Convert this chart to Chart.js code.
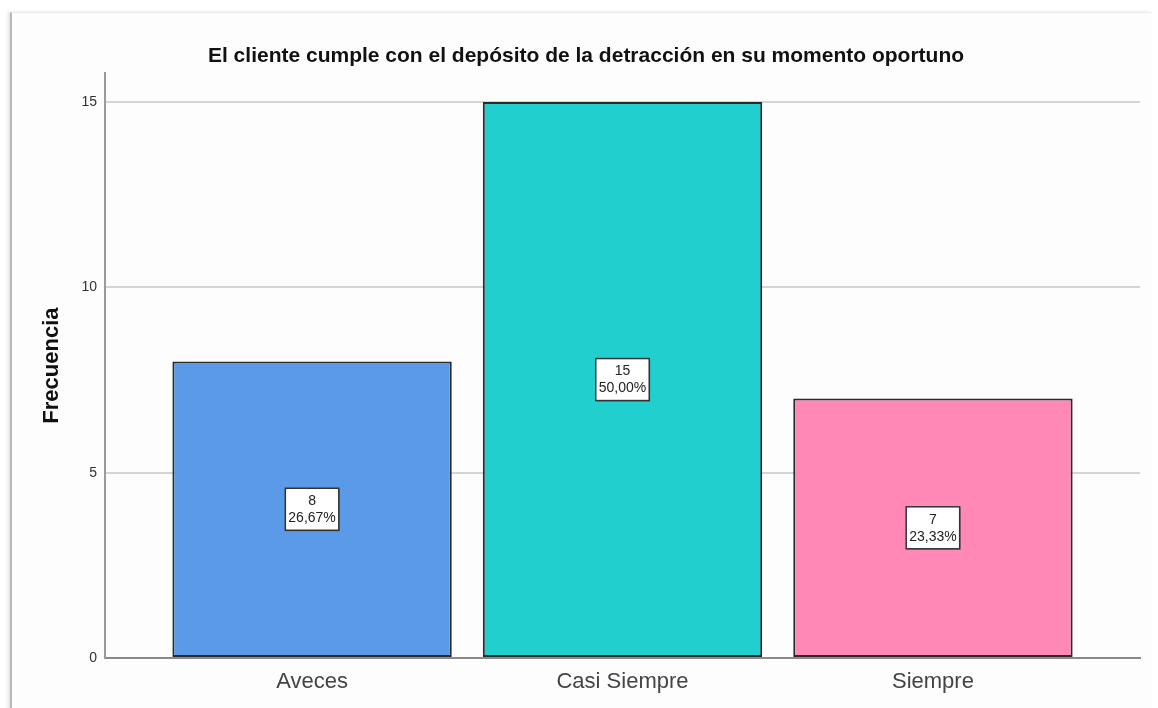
<!DOCTYPE html>
<html>
<head>
<meta charset="utf-8">
<script src="https://cdn.jsdelivr.net/npm/chart.js@4"></script>
<style>
  body { margin: 0; background: #ffffff; }
  #wrap { position: relative; width: 1158px; height: 708px; }
  #frame { position: absolute; left: 10px; top: 12px; width: 1140px; height: 700px;
           border-top: 1px solid #ececec; border-left: 2px solid #b8b8b8;
           box-shadow: -2px 0 3px rgba(0,0,0,0.12); background: #fdfdfd; }
  canvas { position: absolute; left: 0; top: 0; }
</style>
</head>
<body>
<div id="wrap">
  <div id="frame"></div>
  <canvas id="chart" width="1158" height="708"></canvas>
</div>
<script>
const titleText = 'El cliente cumple con el depósito de la detracción en su momento oportuno';
const categories = ['Aveces', 'Casi Siempre', 'Siempre'];
const counts = [8, 15, 7];
const barColors = ['#5b9ae6', '#22cfcf', '#ff88b6'];
const yTicks = [0, 5, 10, 15];

const total = counts.reduce((a, b) => a + b, 0);
const pctLabels = counts.map(v => (v / total * 100).toFixed(2).replace('.', ',') + '%');

const fontFam = '"Liberation Sans", Arial, sans-serif';

// boxes with count and percent in the middle of each bar
const boxLabels = {
    id: 'boxLabels',
    afterDatasetsDraw(chart) {
        const ctx = chart.ctx;
        const meta = chart.getDatasetMeta(0);
        ctx.save();
        ctx.font = '14px ' + fontFam;
        meta.data.forEach((bar, i) => {
            const lines = [String(counts[i]), pctLabels[i]];
            const w = Math.max(...lines.map(l => ctx.measureText(l).width)) + 6;
            const h = 42;
            const cx = bar.x;
            const cy = (bar.y + bar.base) / 2;
            ctx.fillStyle = 'rgba(0,0,0,0.25)';
            ctx.fillRect(cx - w / 2 + 1, cy - h / 2 + 1, w, h);
            ctx.fillStyle = '#ffffff';
            ctx.fillRect(cx - w / 2, cy - h / 2, w, h);
            ctx.strokeStyle = '#333333';
            ctx.lineWidth = 1.5;
            ctx.strokeRect(cx - w / 2, cy - h / 2, w, h);
            ctx.fillStyle = '#222222';
            ctx.textAlign = 'center';
            ctx.textBaseline = 'middle';
            ctx.fillText(lines[0], cx, cy - 8);
            ctx.fillText(lines[1], cx, cy + 9);
        });
        ctx.restore();
    }
};

const ctx = document.getElementById('chart').getContext('2d');
new Chart(ctx, {
    type: 'bar',
    data: {
        datasets: [{
            data: counts.map((v, i) => ({ x: i, y: v })),
            backgroundColor: barColors,
            borderColor: '#2a2a2a',
            borderWidth: 2,
            borderSkipped: false,
            barPercentage: 0.9,
            categoryPercentage: 1
        }]
    },
    plugins: [boxLabels],
    options: {
        responsive: false,
        animation: false,
        layout: { padding: { left: 32, right: 18, top: 0, bottom: 0 } },
        plugins: {
            legend: { display: false },
            tooltip: { enabled: false },
            title: {
                display: true,
                text: titleText,
                color: '#111111',
                font: { family: fontFam, size: 21, weight: 'bold' },
                padding: { top: 44, bottom: 4 }
            }
        },
        scales: {
            x: {
                type: 'linear',
                offset: false,
                min: -0.667,
                max: 2.667,
                afterBuildTicks: axis => { axis.ticks = categories.map((c, i) => ({ value: i })); },
                afterFit: axis => { axis.height = 50; },
                ticks: {
                    callback: v => categories[v],
                    color: '#444444',
                    font: { family: fontFam, size: 22 },
                    padding: 11,
                    maxRotation: 0
                },
                grid: { drawOnChartArea: false, drawTicks: false },
                border: { display: true, color: '#8a8a8a', width: 2 }
            },
            y: {
                min: 0,
                max: 15.78,
                afterBuildTicks: axis => { axis.ticks = yTicks.map(v => ({ value: v })); },
                afterFit: axis => { axis.width = 73; },
                ticks: {
                    color: '#333333',
                    font: { family: fontFam, size: 14 },
                    padding: 8
                },
                grid: { color: '#d4d4d4', lineWidth: 2, drawTicks: false },
                border: { display: true, color: '#9a9a9a', width: 2 },
                title: {
                    display: true,
                    text: 'Frecuencia',
                    color: '#111111',
                    font: { family: fontFam, size: 22, weight: 'bold' },
                    padding: { top: 7, bottom: 0 }
                }
            }
        }
    }
});
</script>
</body>
</html>
